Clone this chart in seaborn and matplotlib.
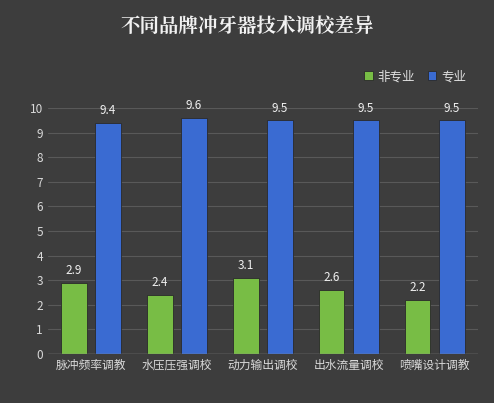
import numpy as np
import pandas as pd
import matplotlib
matplotlib.use("Agg")
import matplotlib.pyplot as plt
import seaborn as sns

categories = ["脉冲频率调教", "水压压强调校", "动力输出调校", "出水流量调校", "喷嘴设计调教"]
non_pro = [2.9, 2.4, 3.1, 2.6, 2.2]
pro = [9.4, 9.6, 9.5, 9.5, 9.5]

sns.set_style("dark")
plt.rcParams['font.family'] = ['Noto Sans CJK SC', 'DejaVu Sans']

df = pd.DataFrame({"cat": categories * 2,
                   "val": non_pro + pro,
                   "grp": ["非专业"] * 5 + ["专业"] * 5})

bg = "#3d3d3d"
fig = plt.figure(figsize=(4.94, 4.03), dpi=100, facecolor=bg)
ax = fig.add_axes([0.097, 0.122, 0.87, 0.61])
ax.set_facecolor(bg)
sns.barplot(data=df, x="cat", y="val", hue="grp", palette=["#78bd45", "#3a6bd2"],
            width=0.8, gap=0.25, ax=ax, edgecolor="#2a2a2a", linewidth=0.6,
            saturation=1)
ax.set_ylim(0, 10)
ax.set_yticks(range(11))
ax.grid(axis="y", color="#595959", linewidth=0.8)
ax.set_axisbelow(True)
for s in ax.spines.values():
    s.set_visible(False)
ax.axhline(0, color="#8a8a8a", linewidth=1)
ax.tick_params(colors="#d9d9d9", labelsize=8.5, length=0)
ax.set_xlabel("")
ax.set_ylabel("")
for c in ax.containers:
    ax.bar_label(c, fmt="%.1f", color="#f0f0f0", fontsize=8.5, padding=4)
ax.legend(loc="upper right", bbox_to_anchor=(1.0, 1.2), ncol=2, frameon=False,
          labelcolor="#e0e0e0", fontsize=9, handlelength=0.7, handleheight=0.7,
          columnspacing=1.0, handletextpad=0.4)
fig.text(0.5, 0.935, "不同品牌冲牙器技术调校差异", ha="center", va="center",
         color="#f2f2f2", fontsize=14, fontweight="bold",
         family=['Noto Serif CJK SC', 'Noto Sans CJK SC', 'DejaVu Sans'])
fig.savefig("out.png", dpi=100, facecolor=bg)
